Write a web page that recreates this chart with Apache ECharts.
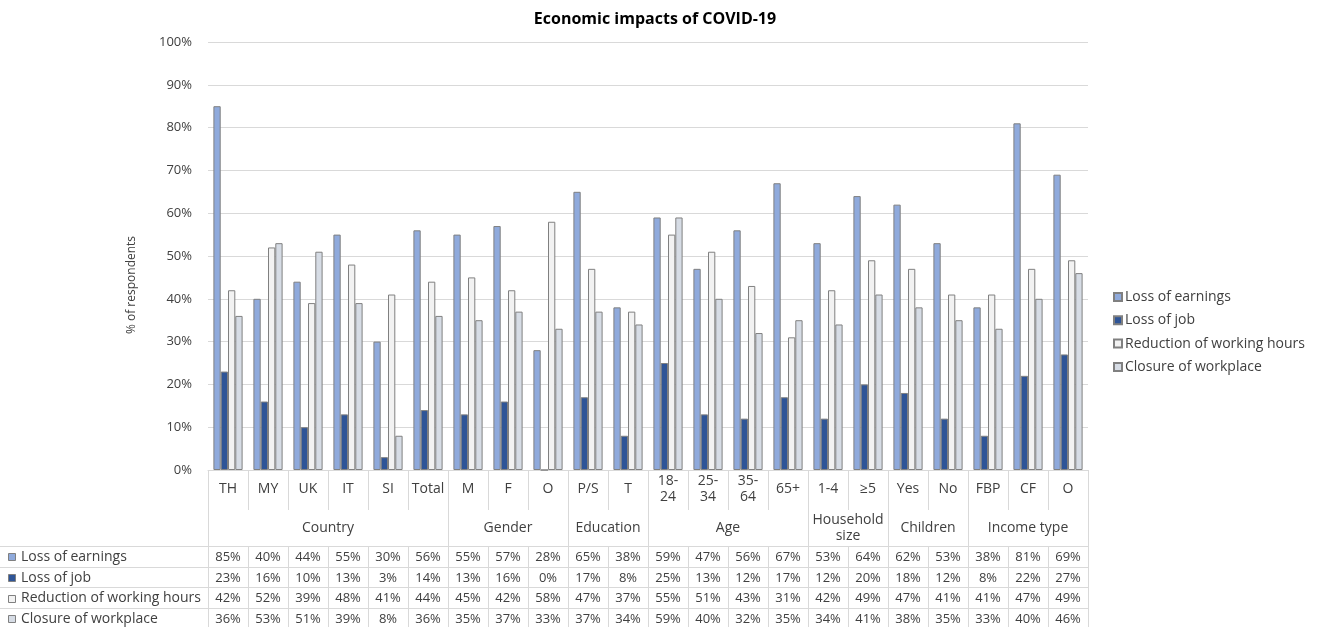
<!DOCTYPE html>
<html>
<head>
<meta charset="utf-8">
<title>Economic impacts of COVID-19</title>
<script src="https://cdn.jsdelivr.net/npm/echarts@6/dist/echarts.min.js"></script>
<style>
  html, body { margin: 0; padding: 0; background: #fff; }
  #chart { width: 1319px; height: 627px; }
</style>
</head>
<body>
<div id="chart"></div>
<script>
// Respondent subgroups along the x axis
const categories = ['TH', 'MY', 'UK', 'IT', 'SI', 'Total', 'M', 'F', 'O', 'P/S', 'T',
  '18-24', '25-34', '35-64', '65+', '1-4', '≥5', 'Yes', 'No', 'FBP', 'CF', 'O'];

// Subgroup families shown in the second table row
const groupNames = ['Country', 'Gender', 'Education', 'Age', 'Household\nsize', 'Children', 'Income type'];
const groupSizes = [6, 3, 2, 4, 2, 2, 3];

// Share of respondents (%) per impact
const seriesNames = ['Loss of earnings', 'Loss of job', 'Reduction of working hours', 'Closure of workplace'];
const lossOfEarnings = [85, 40, 44, 55, 30, 56, 55, 57, 28, 65, 38, 59, 47, 56, 67, 53, 64, 62, 53, 38, 81, 69];
const lossOfJob = [23, 16, 10, 13, 3, 14, 13, 16, 0, 17, 8, 25, 13, 12, 17, 12, 20, 18, 12, 8, 22, 27];
const reductionOfHours = [42, 52, 39, 48, 41, 44, 45, 42, 58, 47, 37, 55, 51, 43, 31, 42, 49, 47, 41, 41, 47, 49];
const closureOfWorkplace = [36, 53, 51, 39, 8, 36, 35, 37, 33, 37, 34, 59, 40, 32, 35, 34, 41, 38, 35, 33, 40, 46];

const seriesValues = [lossOfEarnings, lossOfJob, reductionOfHours, closureOfWorkplace];
const seriesColors = ['#8faadc', '#2f5597', '#f2f2f2', '#d6dce5'];

const FONT = '"Open Sans", "Noto Sans", sans-serif';
const TEXT = '#404040';
const LINE = '#d9d9d9';
const BORDER = '#808080';
const FS_WORD = 14;   // names and labels
const FS_NUM = 13;    // percentages

const chart = echarts.init(document.getElementById('chart'), null, { renderer: 'canvas' });

const option = {
  animation: false,
  backgroundColor: '#ffffff',
  textStyle: { fontFamily: FONT },
  title: {
    text: 'Economic impacts of COVID-19',
    left: 650,
    top: 6,
    textAlign: 'center',
    textStyle: { fontFamily: FONT, fontSize: 16, fontWeight: 'bold', color: '#000' }
  },
  legend: {
    orient: 'vertical',
    left: 1108,
    top: 285,
    itemWidth: 8,
    itemHeight: 8,
    itemGap: 9.3,
    icon: 'rect',
    data: seriesNames,
    textStyle: { fontFamily: FONT, fontSize: FS_WORD, color: TEXT, lineHeight: 14, padding: [0, 0, 0, -2] }
  },
  grid: { left: 208, right: 231, top: 42, bottom: 157, containLabel: false },
  xAxis: {
    type: 'category',
    data: categories,
    axisLine: { show: true, lineStyle: { color: LINE } },
    axisTick: { show: false },
    axisLabel: {
      interval: 0,
      margin: 19,
      verticalAlign: 'middle',
      lineHeight: 16,
      fontFamily: FONT,
      fontSize: FS_WORD,
      color: TEXT,
      formatter: v => (v.length > 4 && v.indexOf('-') > 0) ? v.replace('-', '-\n') : v
    }
  },
  yAxis: {
    type: 'value',
    min: 0,
    max: 100,
    interval: 10,
    name: '% of respondents',
    nameLocation: 'middle',
    nameRotate: 90,
    nameGap: 70,
    nameTextStyle: { fontFamily: FONT, fontSize: 12, color: TEXT, padding: [0, 58, 0, 0] },
    axisLine: { show: false },
    axisTick: { show: false },
    axisLabel: { formatter: '{value}%', margin: 16, fontFamily: FONT, fontSize: FS_NUM, color: TEXT },
    splitLine: { lineStyle: { color: LINE, width: 1 } }
  },
  series: seriesNames.map((name, k) => ({
    name: name,
    type: 'bar',
    data: seriesValues[k],
    barWidth: 7.3,
    barGap: '0%',
    itemStyle: { color: seriesColors[k], borderColor: BORDER, borderWidth: 1 }
  }))
};

chart.setOption(option);

// Data table under the plot, aligned to the category axis
function buildTable() {
  const n = categories.length;
  const c0 = chart.convertToPixel({ xAxisIndex: 0 }, 0);
  const c1 = chart.convertToPixel({ xAxisIndex: 0 }, 1);
  const band = c1 - c0;
  const axisY = chart.convertToPixel({ yAxisIndex: 0 }, 0);
  const edge = i => c0 - band / 2 + i * band;

  const labelRowBottom = axisY + 40;
  const groupRowBottom = axisY + 76;
  const rowH = 20.6;
  const tableBottom = groupRowBottom + rowH * 4 + 2;
  const lineStyle = { stroke: LINE, lineWidth: 1 };
  const wordFont = FS_WORD + 'px ' + FONT;
  const numFont = FS_NUM + 'px ' + FONT;
  const els = [];
  const vline = (x, y1, y2) => els.push({ type: 'line', silent: true,
    shape: { x1: Math.round(x) + 0.5, y1: y1, x2: Math.round(x) + 0.5, y2: y2 }, style: lineStyle });
  const hline = (y, x1, x2) => els.push({ type: 'line', silent: true,
    shape: { x1: x1, y1: Math.round(y) + 0.5, x2: x2, y2: Math.round(y) + 0.5 }, style: lineStyle });

  // group boundaries run the full table height, inner boundaries skip the group row
  const groupEdges = new Set([0]);
  let acc = 0;
  groupSizes.forEach(s => { acc += s; groupEdges.add(acc); });
  for (let i = 0; i <= n; i++) {
    if (groupEdges.has(i)) {
      vline(edge(i), axisY, tableBottom);
    } else {
      vline(edge(i), axisY, labelRowBottom);
      vline(edge(i), groupRowBottom, tableBottom);
    }
  }

  // row separators, including the legend column on the left
  for (let r = 0; r < 4; r++) hline(groupRowBottom + r * rowH, 0, edge(n));

  // group names
  let start = 0;
  groupNames.forEach((g, gi) => {
    const mid = (edge(start) + edge(start + groupSizes[gi])) / 2;
    els.push({ type: 'text', silent: true, x: mid, y: (labelRowBottom + groupRowBottom) / 2,
      style: { text: g, fill: TEXT, font: wordFont, align: 'center', verticalAlign: 'middle', lineHeight: 16 } });
    start += groupSizes[gi];
  });

  // value rows with their legend keys
  seriesNames.forEach((name, k) => {
    const cy = groupRowBottom + k * rowH + rowH / 2 + 1;
    els.push({ type: 'rect', silent: true, shape: { x: 8.5, y: Math.round(cy - 4) + 0.5, width: 7, height: 7 },
      style: { fill: seriesColors[k], stroke: BORDER, lineWidth: 1 } });
    els.push({ type: 'text', silent: true, x: 21, y: cy,
      style: { text: name, fill: TEXT, font: wordFont, align: 'left', verticalAlign: 'middle' } });
    seriesValues[k].forEach((v, i) => {
      els.push({ type: 'text', silent: true, x: chart.convertToPixel({ xAxisIndex: 0 }, i), y: cy,
        style: { text: v + '%', fill: TEXT, font: numFont, align: 'center', verticalAlign: 'middle' } });
    });
  });

  chart.setOption({ graphic: { elements: els } });
}

buildTable();
</script>
</body>
</html>
